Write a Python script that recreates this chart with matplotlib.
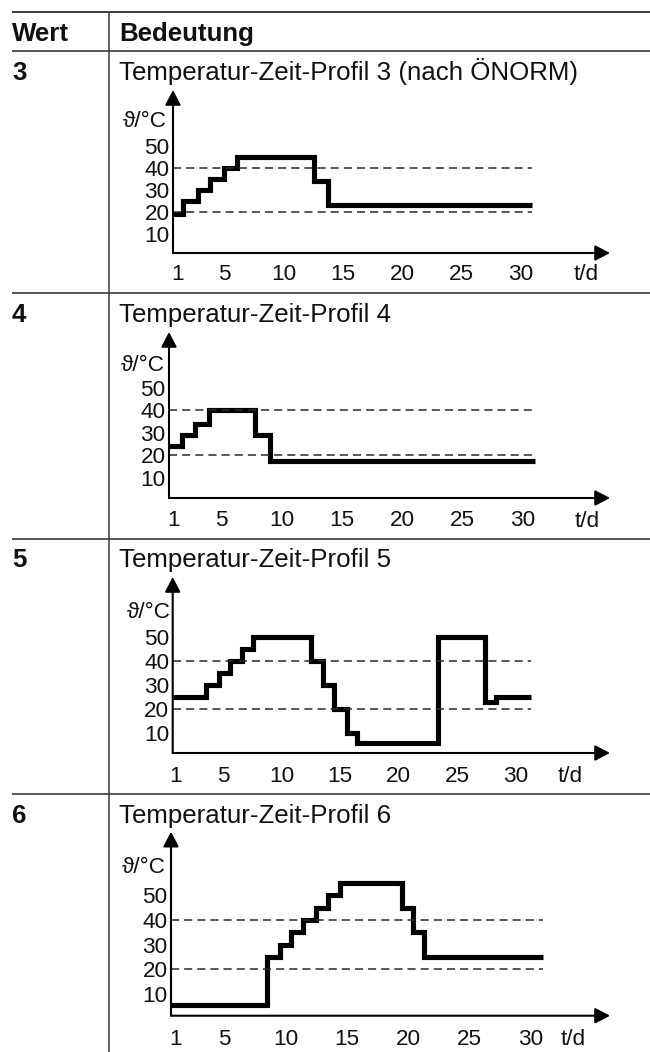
import matplotlib
matplotlib.use("Agg")
import matplotlib.pyplot as plt

FONT = ["Liberation Sans", "DejaVu Sans"]
plt.rcParams["font.family"] = FONT

# ---------------- data ----------------
header = ["Wert", "Bedeutung"]
row_values = ["3", "4", "5", "6"]
titles = [
    "Temperatur-Zeit-Profil 3 (nach ÖNORM)",
    "Temperatur-Zeit-Profil 4",
    "Temperatur-Zeit-Profil 5",
    "Temperatur-Zeit-Profil 6",
]
x_ticks = [1, 5, 10, 15, 20, 25, 30]
y_ticks = [10, 20, 30, 40, 50]
ref_levels = [20, 40]
y_label = "ϑ/°C"
x_label = "t/d"

# step profiles: day edges and temperature levels (°C)
p3_edges = [0.62, 1.5, 2.7, 3.75, 4.9, 6.0, 12.5, 13.75, 31.0]
p3_vals = [19, 25, 30, 35, 40, 45, 34, 23]

p4_edges = [0.65, 1.7, 2.8, 4.0, 7.8, 9.0, 31.0]
p4_vals = [24, 29, 34, 40, 29, 17.5]

p5_edges = [0.72, 3.6, 4.65, 5.6, 6.65, 7.6, 12.5, 13.5, 14.5, 15.55, 16.45,
            23.35, 27.35, 28.3, 31.3]
p5_vals = [25, 30, 35, 40, 45, 50, 40, 30, 20, 10, 6, 50, 23, 25]

p6_edges = [0.6, 8.45, 9.5, 10.45, 11.4, 12.45, 13.45, 14.45, 19.45, 20.35,
            21.3, 31.05]
p6_vals = [5.5, 25, 30, 35, 40, 45, 50, 55, 45, 35, 25]

profiles = [(p3_edges, p3_vals), (p4_edges, p4_vals),
            (p5_edges, p5_vals), (p6_edges, p6_vals)]
ref_end = [30.96, 30.95, 31.26, 31.0]

# ---------------- layout (pixels) ----------------
W, H = 650, 1052
# axis left x, arrow tip x, x-axis y, arrow tip y
boxes = [
    (173, 610, 253, 90),
    (169, 610, 498, 332),
    (172.7, 610, 753, 577),
    (171, 610, 1015.7, 831.7),
]
xlims = [(0.62, 37.55), (0.65, 37.2), (0.72, 38.0), (0.6, 36.5)]
ylims = [(1.2, 75.3), (0.9, 74.7), (1.9, 74.6), (1.2, 75.7)]
xpads = [8.2, 8.3, 9.2, 9.8]
ylab_pos = [(167, 127), (165, 371), (171, 618), (166, 873)]
xlab_pos = [(586, 280), (587, 527), (570, 782), (573, 1045)]
row_lines = [51, 293, 539, 794]
row_base = [80, 322, 567, 823]

fig = plt.figure(figsize=(W / 100, H / 100), dpi=100)
fig.patch.set_facecolor("white")

tab = fig.add_axes([0, 0, 1, 1])
tab.set_xlim(0, W)
tab.set_ylim(H, 0)
tab.set_axis_off()

LC = "#3a3a3a"
tab.plot([12, W], [12, 12], color=LC, lw=1.4, solid_capstyle="butt")
for y in row_lines:
    tab.plot([12, W], [y, y], color=LC, lw=1.2, solid_capstyle="butt")
tab.plot([109, 109], [12, H], color=LC, lw=1.1, solid_capstyle="butt")

TS = 18.6
tab.text(12, 41, header[0], fontsize=TS, fontweight="bold", va="baseline",
         ha="left", color="#111")
tab.text(119, 41, header[1], fontsize=TS, fontweight="bold", va="baseline",
         ha="left", color="#111")
for i in range(4):
    tab.text(12, row_base[i], row_values[i], fontsize=TS, fontweight="bold",
             va="baseline", ha="left", color="#111")
    tab.text(119, row_base[i], titles[i], fontsize=TS, va="baseline",
             ha="left", color="#111")
    tab.text(ylab_pos[i][0], ylab_pos[i][1], y_label, fontsize=16.2,
             va="baseline", ha="right", color="#111", family=FONT)
    tab.text(xlab_pos[i][0], xlab_pos[i][1], x_label, fontsize=16.2,
             va="baseline", ha="center", color="#111")

for i, (edges, vals) in enumerate(profiles):
    L, R, B, T = boxes[i]
    ax = fig.add_axes([L / W, 1 - B / H, (R - L) / W, (B - T) / H])
    ax.patch.set_visible(False)
    ax.set_xlim(*xlims[i])
    ax.set_ylim(*ylims[i])
    for s in ax.spines.values():
        s.set_visible(False)
    ax.set_xticks(x_ticks)
    ax.set_yticks(y_ticks)
    ax.tick_params(axis="x", length=0, pad=xpads[i], labelsize=16.2,
                   labelcolor="#111")
    ax.tick_params(axis="y", length=0, pad=2.5, labelsize=16.2,
                   labelcolor="#111")

    ax.hlines(ref_levels, xlims[i][0], ref_end[i], colors="#2a2a2a", lw=1.1,
              linestyles=(0, (5.3, 3.3)))
    ax.stairs(vals, edges, baseline=None, color="black", lw=3.7)

    ap = dict(arrowstyle="-|>,head_length=0.9,head_width=0.47",
              mutation_scale=10, lw=1.5, color="black", shrinkA=0, shrinkB=0)
    ax.annotate("", xy=(0, 1), xytext=(0, 0), xycoords="axes fraction",
                arrowprops=ap)
    ax.annotate("", xy=(1, 0), xytext=(0, 0), xycoords="axes fraction",
                arrowprops=ap)

fig.savefig("out.png", dpi=100, facecolor="white")
